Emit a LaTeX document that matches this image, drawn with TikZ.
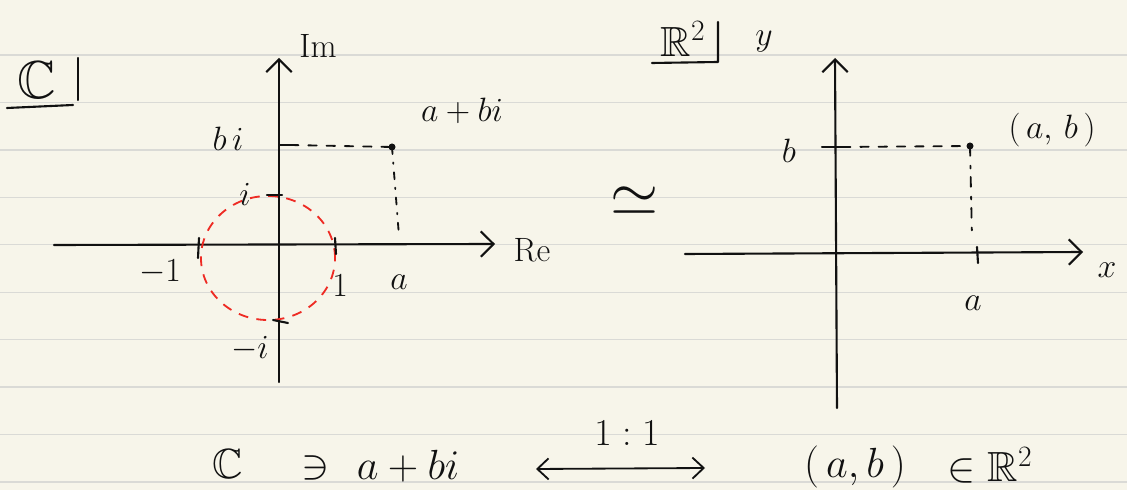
\documentclass[tikz,border=0pt]{standalone}
\usepackage{fix-cm}
\usepackage{amssymb}
\usetikzlibrary{arrows.meta}
\definecolor{Paper}{HTML}{F7F5EA}
\definecolor{Ruling}{HTML}{DADAD6}
\definecolor{Pen}{HTML}{111111}
\definecolor{RedPen}{HTML}{EE2B24}

\begin{document}
\begin{tikzpicture}[x=0.025cm,y=-0.025cm,
    ax/.style={draw=Pen,line width=1.5pt,line cap=round,line join=round},
    arr/.style={ax,-{Straight Barb[length=9pt,width=18pt]}},
    hint/.style={ax,line width=1.3pt,dash pattern=on 6pt off 7pt},
    lb/.style={inner sep=0pt,text=Pen,font=\fontsize{24}{28}\selectfont},
    big/.style={lb,font=\fontsize{30}{34}\selectfont}]
  \useasboundingbox (0,0) rectangle (1127,490);
  \fill[Paper] (0,0) rectangle (1127,490);
  \foreach \k in {0,...,9}
    \draw[Ruling,line width=0.9pt] (0,{55+47.44*\k}) -- (1127,{55+47.44*\k});

  \node[lb,font=\fontsize{38}{40}\selectfont] (tC) at (37,80) {$\mathbb{C}$};
  \draw[ax] (78,58) -- (78,100);
  \draw[ax] (7,108) -- (73,105);

  \coordinate (lT) at (279,58);
  \coordinate (lB) at (279,382);
  \coordinate (lW) at (54,245);
  \coordinate (lE) at (495,244);
  \draw[arr] (lB) -- (lT);
  \draw[arr] (lW) -- (lE);
  \node[lb] (im) at (318,46) {Im};
  \node[lb] (re) at (532,250) {Re};

  \draw[RedPen,line width=1.3pt,dash pattern=on 7pt off 6pt] (268,258) ellipse [x radius=1.675cm,y radius=1.55cm];
  \draw[ax] (199,238) -- (198,258);
  \draw[ax] (335,238) -- (336,254);
  \draw[ax] (267,195) -- (282,195);
  \draw[ax] (273,320) -- (288,323);
  \draw[ax] (280,145) -- (290,145);
  \node[lb] (m1) at (160,272) {$-1$};
  \node[lb] (p1) at (340,286) {$1$};
  \node[lb] (ii) at (245,194) {$i$};
  \node[lb] (mi) at (250,349) {$-i$};
  \node[lb] (bi) at (228,139) {$b\,i$};

  \coordinate (z) at (392,147);
  \fill[Pen] (z) circle (3.5);
  \coordinate (za) at (399,236);
  \draw[hint] (290,145) -- (z);
  \draw[ax,line width=1.3pt,dash pattern=on 5pt off 6pt on 1pt off 6pt] (z) -- (za);
  \node[lb] (zl) at (462,111) {$a+bi$};
  \node[lb] (a1) at (399,282) {$a$};

  \node[lb,font=\fontsize{44}{48}\selectfont] (iso) at (635,201) {$\simeq$};

  \node[big] (tR) at (683,39) {$\mathbb{R}^2$};
  \draw[ax] (718,22) -- (718,62) -- (652,63);
  \node[lb] (yl) at (764,42) {$y$};

  \coordinate (rT) at (835,58);
  \coordinate (rB) at (837,408);
  \coordinate (rW) at (685,254);
  \coordinate (rE) at (1083,252);
  \draw[arr] (rB) -- (rT);
  \draw[arr] (rW) -- (rE);
  \node[lb] (xl) at (1107,270) {$x$};

  \draw[ax] (822,147) -- (842,147);
  \node[lb] (bl) at (789,151) {$b$};
  \coordinate (w) at (970,146);
  \fill[Pen] (w) circle (3.5);
  \coordinate (wa) at (972,237);
  \draw[hint] (842,147) -- (w);
  \draw[ax,line width=1.3pt,dash pattern=on 7pt off 7pt on 2pt off 6pt] (w) -- (wa);
  \draw[ax] (977,247) -- (978,263);
  \node[lb] (wl) at (1052,130) {$(\,a,\,b\,)$};
  \node[lb] (a2) at (973,303) {$a$};

  \node[big] (cC) at (228,464) {$\mathbb{C}$};
  \node[big] (ni) at (316,468) {$\ni$};
  \node[big] (cz) at (408,466) {$a+bi$};
  \coordinate (mL) at (536,469);
  \coordinate (mR) at (705,468);
  \draw[ax,line width=1.3pt,{Straight Barb[length=8pt,width=15pt]}-{Straight Barb[length=8pt,width=15pt]}] (mL) -- (mR);
  \node[lb,font=\fontsize{27}{30}\selectfont] (one) at (627,433) {$1:1$};
  \node[big] (cw) at (855,467) {$(\,a,b\,)$};
  \node[big] (inR) at (990,465) {$\in\mathbb{R}^2$};
\end{tikzpicture}
\end{document}
